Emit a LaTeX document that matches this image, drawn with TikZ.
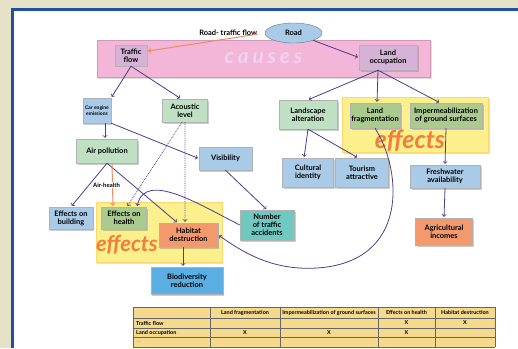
\documentclass[tikz,border=0pt]{standalone}
\usepackage{fontspec}
\setmainfont{Lato}
\newfontfamily\spacedfont[LetterSpace=18]{Lato}
\usepackage{tikz}
\usetikzlibrary{petri, positioning, shapes.geometric, shadows}

\definecolor{paper}{HTML}{E6E2C8}
\definecolor{framecol}{HTML}{1F4FA3}
\definecolor{linkcol}{HTML}{4A3E8A}
\definecolor{orangelink}{HTML}{EE8A62}
\definecolor{causecol}{HTML}{F3B5D8}
\definecolor{causetext}{HTML}{EFD3F3}
\definecolor{mauve}{HTML}{D5B3D6}
\definecolor{paleblue}{HTML}{A9CBE7}
\definecolor{palegreen}{HTML}{BFE0C3}
\definecolor{olive}{HTML}{AACA8E}
\definecolor{salmon}{HTML}{F29A6E}
\definecolor{deepblue}{HTML}{5BAEE2}
\definecolor{accidentcol}{HTML}{70C9C1}
\definecolor{effectbg}{HTML}{FBF08C}
\definecolor{effecttext}{HTML}{F47B3A}
\definecolor{tablecol}{HTML}{F5D98C}

\newcommand{\boxfont}{\fontsize{7.5}{8}\selectfont\bfseries}
\newcommand{\tinyboxfont}{\fontsize{5}{5.8}\selectfont\bfseries}
\newcommand{\cellfont}{\fontsize{5.5}{6}\selectfont\bfseries}

\tikzstyle{box}=[rectangle, draw=black!30, line width=.4pt, align=center, inner sep=1pt, font=\boxfont,
  drop shadow={shadow xshift=1.5pt, shadow yshift=-1.5pt, opacity=.4}]
\tikzstyle{mauvebox}=[box, fill=mauve]
\tikzstyle{bluebox}=[box, fill=paleblue]
\tikzstyle{greenbox}=[box, fill=palegreen]
\tikzstyle{olivebox}=[box, fill=olive]
\tikzstyle{salmonbox}=[box, fill=salmon]
\tikzstyle{deepbox}=[box, fill=deepblue]
\tikzstyle{accbox}=[box, fill=accidentcol]
\tikzstyle{roadshape}=[ellipse, fill=paleblue, draw=paleblue!60!black, line width=.4pt, inner sep=0pt,
  minimum width=57bp, minimum height=20bp, font=\boxfont]
\tikzstyle{causearea}=[rectangle, fill=causecol, draw=causecol!85!black, line width=.5pt, text=causetext,
  font=\spacedfont\fontsize{21}{21}\selectfont\bfseries\itshape,
  drop shadow={shadow xshift=1.5pt, shadow yshift=-1.5pt, opacity=.25}]
\tikzstyle{effectarea}=[rectangle, fill=effectbg, draw=effectbg!80!orange, line width=.5pt,
  drop shadow={shadow xshift=1.5pt, shadow yshift=-1.5pt, opacity=.25}]
\tikzstyle{effectlabel}=[inner sep=0pt, text=effecttext, font=\fontsize{22}{22}\selectfont\bfseries\itshape]
\tikzstyle{lbl}=[inner sep=.5pt, font=\fontsize{7.5}{8}\selectfont\bfseries]
\tikzstyle{flow}=[post, draw=linkcol, line width=.8pt]
\tikzstyle{dotflow}=[flow, densely dotted]
\tikzstyle{heat}=[post, draw=orangelink, line width=1pt]
\tikzstyle{gridline}=[draw=black!60, line width=.7pt]
\tikzstyle{cellhead}=[inner sep=0pt, font=\cellfont]
\tikzstyle{rowhead}=[inner sep=0pt, anchor=west, font=\cellfont]
\tikzstyle{cell}=[inner sep=0pt, font=\cellfont]

\begin{document}
\begin{tikzpicture}[x=1bp, y=-1bp, node distance=40bp]
  \useasboundingbox (0,0) rectangle (518,348);
  \fill [paper] (0,0) rectangle (518,348);
  \fill [white] (13,10) rectangle (518,348);
  \draw [framecol, line width=3bp] (12.5,348) -- (12.5,9.5) -- (518,9.5);

  % areas
  \node [causearea, minimum width=333bp, minimum height=37bp] (causes) at (263.5,58.5) {causes};
  \node [effectarea, minimum width=126bp, minimum height=60bp] (effleft) at (159,232) {};
  \node [effectarea, minimum width=146bp, minimum height=55bp] (effright) at (415,124.5) {};
  \node [effectlabel] (effleftlabel) at (127,245) {effects};
  \node [effectlabel, font=\fontsize{25}{25}\selectfont\bfseries\itshape] (effrightlabel) at (410,141) {effects};

  % causes
  \node [mauvebox, minimum width=32bp, minimum height=21bp] (trafficflow) at (131,55.5) {Traffic\\flow};
  \node [mauvebox, minimum width=58bp, minimum height=25bp] (landocc) at (388,57.5) {Land\\occupation};
  \node [roadshape] (road) at (293.5,33) {Road};
  \node [lbl, left=7bp of road] (roadlbl) {Road- traffic flow};

  % traffic side
  \node [bluebox, font=\tinyboxfont, minimum width=28bp, minimum height=25bp] (carengine) at (97,110.5) {Car engine\\emissions};
  \node [greenbox, minimum width=45bp, minimum height=23bp] (acoustic) [right of=carengine, node distance=88bp] {Acoustic\\level};
  \node [greenbox, minimum width=61bp, minimum height=24bp] (airpoll) [below of=carengine, node distance=40.5bp, xshift=10bp] {Air pollution};
  \node [bluebox, minimum width=53bp, minimum height=23bp] (visibility) at (225.5,158.5) {Visibility};
  \node [bluebox, minimum width=44bp, minimum height=22bp] (effbuilding) at (71,218) {Effects on\\building};
  \node [olivebox, minimum width=45bp, minimum height=22bp] (effhealth) [right of=effbuilding, node distance=53bp] {Effects on\\health};
  \node [salmonbox, minimum width=59bp, minimum height=24bp] (habitat) at (188.5,235) {Habitat\\destruction};
  \node [deepbox, minimum width=72bp, minimum height=27bp] (biodiv) [below of=habitat, node distance=45.5bp, xshift=-1.5bp] {Biodiversity\\reduction};
  \node [accbox, minimum width=54bp, minimum height=30bp] (numacc) at (267,225) {Number\\of traffic\\accidents};

  % land side
  \node [greenbox, minimum width=58bp, minimum height=29bp] (landscape) at (308,114.5) {Landscape\\alteration};
  \node [olivebox, minimum width=50bp, minimum height=25bp] (landfrag) at (375,115.5) {Land\\fragmentation};
  \node [olivebox, minimum width=72bp, minimum height=25bp] (impermeab) [right of=landfrag, node distance=71bp] {Impermeabilization\\of ground surfaces};
  \node [bluebox, minimum width=51bp, minimum height=29bp] (cultural) [below of=landscape, node distance=58bp] {Cultural\\identity};
  \node [bluebox, minimum width=53bp, minimum height=29bp] (tourism) [right of=cultural, node distance=54bp] {Tourism\\attractive};
  \node [bluebox, minimum width=70bp, minimum height=23bp] (freshwater) [below of=impermeab, node distance=61bp, xshift=-1bp] {Freshwater\\availability};
  \node [salmonbox, minimum width=57bp, minimum height=27bp] (agri) [below of=freshwater, node distance=55bp, xshift=-1bp] {Agricultural\\incomes};

  % links
  \path (road.west) edge [heat, shorten <=7bp] (trafficflow.15)
        (road) edge [flow] (landocc.west);
  \path (trafficflow.south) edge [flow] (carengine.north east)
                            edge [flow] ([xshift=-4bp]acoustic.north);
  \path ([xshift=-10bp]landocc.south) edge [flow] (landscape.north)
                                      edge [flow] ([xshift=2bp]landfrag.north)
                                      edge [flow] ([xshift=-6bp]impermeab.north);
  \path (landscape.south) edge [flow] ([xshift=-4bp]cultural.north)
                          edge [flow] ([xshift=-4bp]tourism.north);
  \path (impermeab.south) edge [flow] (freshwater.north);
  \path (freshwater.south) edge [flow] (agri.north);
  \path ([xshift=8bp]carengine.south) edge [flow] ([xshift=-2bp]airpoll.north)
        (carengine.south east) edge [flow] (visibility.west);
  \path (airpoll.south) edge [flow] (effbuilding.north)
                        edge [flow] ([xshift=-11bp]habitat.north);
  \path ([xshift=5bp]airpoll.south) edge [heat] node [lbl, fill=white, xshift=-6bp, font=\fontsize{6}{6}\selectfont\bfseries] (airhealth) {Air-health} ([xshift=-11bp]effhealth.north);
  \path ([xshift=-3bp]acoustic.south) edge [dotflow] ([xshift=3bp]effhealth.north);
  \path (acoustic.south) edge [dotflow] ([xshift=-3.5bp]habitat.north);
  \path (visibility.south) edge [flow] (numacc.north);
  \path ([xshift=-5.5bp]habitat.south) edge [flow] ([xshift=-4bp]biodiv.north);
  \draw [flow] (numacc.west) .. controls (200,205) and (145,170) .. ([xshift=13bp]effhealth.north);
  \coordinate (loopturn) at (317,268);
  \draw [flow] (landfrag.south) .. controls (402,170) and (410,262) .. (loopturn)
               .. controls (270,271) and (240,250) .. (habitat.east);

  % table
  \fill [tablecol] (133,307) rectangle (495,347);
  \foreach \y in {307,318,328,337,347}
    \draw [gridline] (133,\y) -- (495,\y);
  \foreach \x in {133,210,280,378,435,495}
    \draw [gridline] (\x,307) -- (\x,347);
  \node [cellhead] (hfrag) at (245,312.5) {Land fragmentation};
  \node [cellhead] (himp) at (329,312.5) {Impermeabilization of ground surfaces};
  \node [cellhead] (hhealth) at (406.5,312.5) {Effects on health};
  \node [cellhead] (hhabitat) at (465,312.5) {Habitat destruction};
  \node [rowhead] (rtraffic) at (136,323) {Traffic flow};
  \node [rowhead] (rland) at (136,332.5) {Land occupation};
  \node [rowhead, text=black!35] (rmore) at (137,342) {...};
  \foreach \x/\y [count=\i] in {406.5/323, 465/323, 245/332.5, 329/332.5, 406.5/332.5}
    \node [cell] (mark\i) at (\x,\y) {X};
\end{tikzpicture}
\end{document}
